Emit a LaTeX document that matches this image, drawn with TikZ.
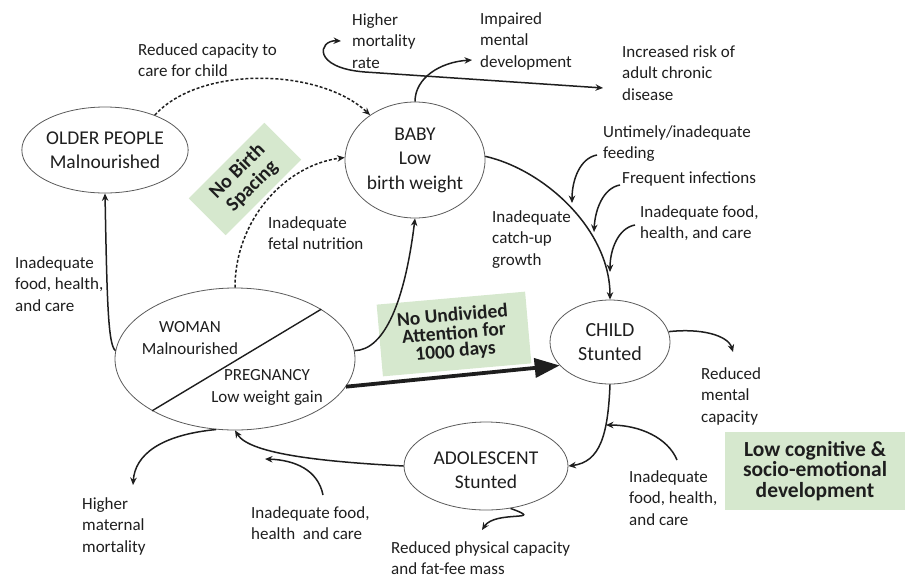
\documentclass[tikz,border=0pt]{standalone}
\usepackage{fontspec}
\setmainfont{Carlito}
\usetikzlibrary{shapes.geometric,arrows.meta}
\definecolor{boxgreen}{RGB}{214,232,206}
\definecolor{ink}{RGB}{30,30,30}
\definecolor{rim}{RGB}{90,90,90}
\newcommand\lblfont{\fontsize{17}{21.5}\selectfont}
\newcommand\ellfont{\fontsize{19.5}{24.5}\selectfont}
\begin{document}
\begin{tikzpicture}[x=1pt,y=-1pt,
  lbl/.style={font=\lblfont, align=left, anchor=north west, inner sep=0pt, text=ink},
  state/.style={ellipse, draw=rim, line width=0.8pt, inner sep=0pt, font=\ellfont, align=center, text=ink},
  gbox/.style={fill=boxgreen, inner sep=0pt, align=center, text=ink},
  arr/.style={-{Stealth[length=7.5pt,width=6.5pt]}, line width=1.5pt, draw=ink},
  darr/.style={arr, dash pattern=on 3pt off 2pt},
  thick arr/.style={-{Triangle[length=25pt,width=19pt]}, line width=3.8pt, draw=ink}]
\useasboundingbox (0,0) rectangle (909,579);
% green boxes
\node[gbox, rotate=45, minimum width=107pt, minimum height=52pt, font=\bfseries\fontsize{20}{21}\selectfont] (spacing) at (245,179) {No Birth\\Spacing};
\node[gbox, rotate=5, minimum width=149pt, minimum height=72pt, font=\bfseries\fontsize{19.5}{18}\selectfont] (attn) at (454,334) {No Undivided\\Attention for\\1000 days};
\node[gbox, minimum width=180pt, minimum height=78pt, font=\bfseries\fontsize{21.5}{20.5}\selectfont] (cog) at (815,471) {Low cognitive \&\\socio-emotional\\development};
% states
\node[state, minimum width=140pt, minimum height=86pt] (older) at (105,150) {OLDER PEOPLE\\Malnourished};
\node[state, minimum width=140pt, minimum height=116pt] (baby) at (415,160) {BABY\\Low\\birth weight};
\node[state, minimum width=240pt, minimum height=142pt] (woman) at (235,359) {};
\node[state, minimum width=120pt, minimum height=84pt, font=\fontsize{20}{23.5}\selectfont] (child) at (610,342) {CHILD\\Stunted};
\node[state, minimum width=164pt, minimum height=88pt] (adol) at (486,466) {};
\node[font=\ellfont, text=ink, align=center, inner sep=0pt] (adtxt) at (486,470) {ADOLESCENT\\Stunted};
\draw[ink, line width=1.4pt] (woman.212) -- (woman.30);
\node[font=\fontsize{17}{22}\selectfont, text=ink, align=center, inner sep=0pt] (wtxt) at (190,338) {WOMAN\\Malnourished};
\node[font=\fontsize{17}{22}\selectfont, text=ink, align=center, inner sep=0pt] (ptxt) at (267,387) {PREGNANCY\\Low weight gain};
% labels
\node[lbl] (mort) at (352,13) {Higher\\mortality\\rate};
\node[lbl] (impair) at (480,12) {Impaired\\mental\\development};
\node[lbl] (chronic) at (622,45) {Increased risk of\\adult chronic\\disease};
\node[lbl] (capcare) at (138,43) {Reduced capacity to\\care for child};
\node[lbl] (fetal) at (268,216) {Inadequate\\fetal nutrition};
\node[lbl] (feeding) at (603,125) {Untimely/inadequate\\feeding};
\node[lbl] (infect) at (622,172) {Frequent infections};
\node[lbl] (foodA) at (640,205) {Inadequate food,\\health, and care};
\node[lbl] (catch) at (492,210) {Inadequate\\catch-up\\growth};
\node[lbl] (foodB) at (15,256) {Inadequate\\food, health,\\and care};
\node[lbl] (mental) at (701,367) {Reduced\\mental\\capacity};
\node[lbl] (foodC) at (629,470) {Inadequate\\food, health,\\and care};
\node[lbl] (maternal) at (82,497) {Higher\\maternal\\mortality};
\node[lbl] (foodD) at (251,506) {Inadequate food,\\health\ \ and care};
\node[lbl] (phys) at (391,541) {Reduced physical capacity\\and fat-fee mass};
% free ends
\coordinate (tMort) at (341,41);
\coordinate (tChron) at (603,88);
\coordinate (tImp) at (472,60);
\coordinate (sFeed) at (597,155);
\coordinate (tFeed) at (572,203);
\coordinate (sInf) at (620,185);
\coordinate (tInf) at (594,232);
\coordinate (sFoodA) at (635,225);
\coordinate (tFoodA) at (610,272);
\coordinate (sFoodC) at (677,460);
\coordinate (tFoodC) at (606,425);
\coordinate (tMent) at (733,352);
\coordinate (sFoodD) at (323,495);
\coordinate (tFoodD) at (265,459);
\coordinate (tMat) at (133,485);
\coordinate (tPhys) at (482,530);
% connectors
\draw[arr] (woman.176) .. controls (108,345) and (107,300) .. (older.south);
\draw[darr] (older.35) .. controls (200,65) and (320,68) .. (baby.135);
\draw[darr] (woman.north) .. controls (235,220) and (285,165) .. (baby.178);
\draw[arr] (woman.4) .. controls (385,350) and (405,300) .. (baby.south);
\draw[thick arr] (woman.-14) -- (child.205);
\draw[arr] (baby.3) .. controls (545,170) and (610,230) .. (child.north);
\draw[arr] (sFeed) .. controls (580,158) and (572,180) .. (tFeed);
\draw[arr] (sInf) .. controls (603,188) and (595,210) .. (tInf);
\draw[arr] (sFoodA) .. controls (618,228) and (610,250) .. (tFoodA);
\draw[arr] (baby.north) .. controls (415,78) and (440,62) .. (tImp);
\draw[{Stealth[length=7.5pt,width=6.5pt]}-{Stealth[length=7.5pt,width=6.5pt]}, line width=1.5pt, draw=ink] (tMort) .. controls (318,40) and (312,68) .. (365,72) -- (tChron);
\draw[arr] (child.south) .. controls (608,435) and (600,462) .. (adol.east);
\draw[arr] (sFoodC) .. controls (668,438) and (640,425) .. (tFoodC);
\draw[arr] (child.10) .. controls (700,328) and (728,335) .. (tMent);
\draw[arr] (adol.west) .. controls (330,462) and (250,455) .. (woman.-90);
\draw[arr] (sFoodD) .. controls (318,470) and (295,460) .. (tFoodD);
\draw[arr] (woman.-105) .. controls (160,435) and (135,455) .. (tMat);
\draw[arr] (adol.-60) .. controls (548,522) and (495,510) .. (tPhys);
\end{tikzpicture}
\end{document}
